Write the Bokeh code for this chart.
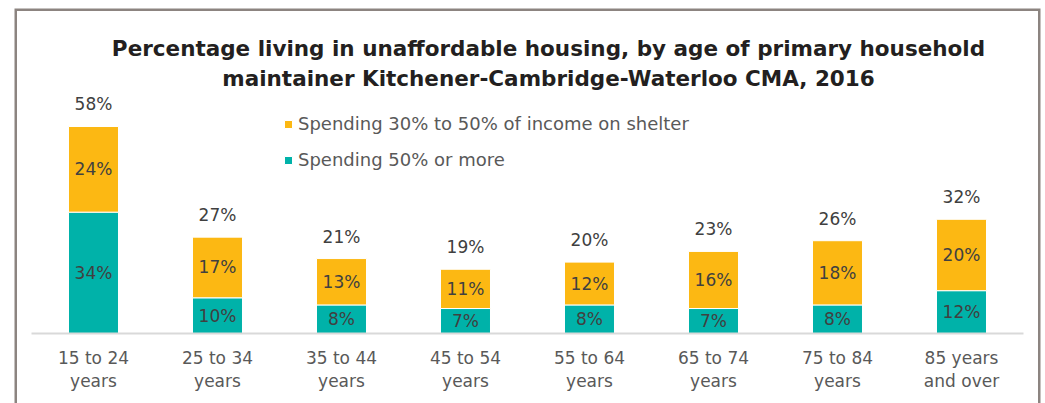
from bokeh.plotting import figure
from bokeh.models import (ColumnDataSource, Legend, LegendItem, Label, BoxAnnotation,
                          FactorRange, CategoricalAxis, CustomJSTickFormatter)
from bokeh.core.properties import value
from bokeh.embed import file_html
from bokeh.resources import INLINE

# ---------------- data ----------------
categories = ["15 to 24 years", "25 to 34 years", "35 to 44 years", "45 to 54 years",
              "55 to 64 years", "65 to 74 years", "75 to 84 years", "85 years and over"]
tick_line1 = ["15 to 24", "25 to 34", "35 to 44", "45 to 54",
              "55 to 64", "65 to 74", "75 to 84", "85 years"]
tick_line2 = ["years", "years", "years", "years",
              "years", "years", "years", "and over"]
spend_30_50 = [24, 17, 13, 11, 12, 16, 18, 20]
spend_50_plus = [34, 10, 8, 7, 8, 7, 8, 12]
totals = [58, 27, 21, 19, 20, 23, 26, 32]
series_names = ["Spending 30% to 50% of income on shelter", "Spending 50% or more"]
title_lines = ["Percentage living in unaffordable housing, by age of primary household",
               "maintainer Kitchener-Cambridge-Waterloo CMA, 2016"]

# ---------------- style ----------------
ORANGE = "#FCB813"
TEAL = "#00B2A9"
FONT = "DejaVu Sans"
W, H = 1045, 403
PX_PER_UNIT = 3.569          # vertical scale, px per percentage point
BASE_Y = 333                 # canvas y of the 0 baseline
FR_L, FR_R, FR_T = 14, 1040, 8   # frame (= chart border)
CAT_PX = 124                 # px per category

src = ColumnDataSource(dict(
    cat=categories,
    s30=spend_30_50,
    s50=spend_50_plus,
    mid50=[v / 2 for v in spend_50_plus],
    mid30=[a + b / 2 for a, b in zip(spend_50_plus, spend_30_50)],
    top=[a + b for a, b in zip(spend_50_plus, spend_30_50)],
    lab50=[f"{v}%" for v in spend_50_plus],
    lab30=[f"{v}%" for v in spend_30_50],
    labtot=[f"{v}%" for v in totals],
))

pad = ((FR_R - FR_L) / CAT_PX - len(categories)) / 2
y0 = -(H - BASE_Y) / PX_PER_UNIT
p = figure(x_range=FactorRange(*categories, range_padding=pad, range_padding_units="absolute"),
           y_range=(y0, (BASE_Y - FR_T) / PX_PER_UNIT),
           width=W, height=H, output_backend="svg", toolbar_location=None,
           title=None, x_axis_location=None, y_axis_location=None,
           min_border_left=FR_L, min_border_right=W - FR_R,
           min_border_top=FR_T, min_border_bottom=0)
p.outline_line_color = None
p.xgrid.visible = False
p.ygrid.visible = False
p.background_fill_color = "white"
p.border_fill_color = "white"

# chart border: left, top and right edges only (bottom runs past the picture)
p.add_layout(BoxAnnotation(bottom=y0 - 10, fill_color=None, fill_alpha=0,
                           line_color="#8C8480", line_alpha=1.0, line_width=5))

r50, r30 = p.vbar_stack(["s50", "s30"], x="cat", width=0.403, color=[TEAL, ORANGE],
                        line_color="white", line_width=1, source=src)

txt = dict(text_align="center", text_font=value(FONT), text_font_size=value("17px"),
           text_color="#404040", source=src)
p.text(x="cat", y="mid50", text="lab50", text_baseline="middle", **txt)
p.text(x="cat", y="mid30", text="lab30", text_baseline="middle", **txt)
p.text(x="cat", y="top", text="labtot", text_baseline="middle", y_offset=-22, **txt)

# category axis (two stacked axes give the two label lines)
for lines, standoff, show_line in [(tick_line1, 8, True), (tick_line2, 31, False)]:
    ax = CategoricalAxis(fixed_location=0, bounds=(0, len(categories)))
    ax.formatter = CustomJSTickFormatter(args=dict(labels=dict(zip(categories, lines))),
                                         code="return labels[tick] ?? tick;")
    ax.axis_line_color = "#D9D9D9" if show_line else None
    ax.axis_line_width = 2
    ax.major_tick_line_color = None
    ax.minor_tick_line_color = None
    ax.major_label_text_font = FONT
    ax.major_label_text_font_size = "17px"
    ax.major_label_text_color = "#595959"
    ax.major_label_standoff = standoff
    p.add_layout(ax, "below")

legend = Legend(items=[LegendItem(label=series_names[0], renderers=[r30]),
                       LegendItem(label=series_names[1], renderers=[r50])],
                location=(283 - FR_L, H - 170), orientation="vertical",
                glyph_width=10, glyph_height=10, label_height=20,
                label_standoff=5, spacing=15, padding=0, margin=0,
                label_text_font=FONT, label_text_font_size="18px",
                label_text_color="#595959", label_text_baseline="middle",
                border_line_color=None, background_fill_alpha=0)
p.add_layout(legend)

for line, yb in zip(title_lines, [48, 78]):
    p.add_layout(Label(x=548 - FR_L, y=H - yb, x_units="screen", y_units="screen",
                       text=line, text_align="center", text_baseline="alphabetic",
                       text_font=FONT, text_font_size="21.5px", text_font_style="bold",
                       text_color="#231F20"))

open("out.html", "w").write(file_html(p, INLINE))
